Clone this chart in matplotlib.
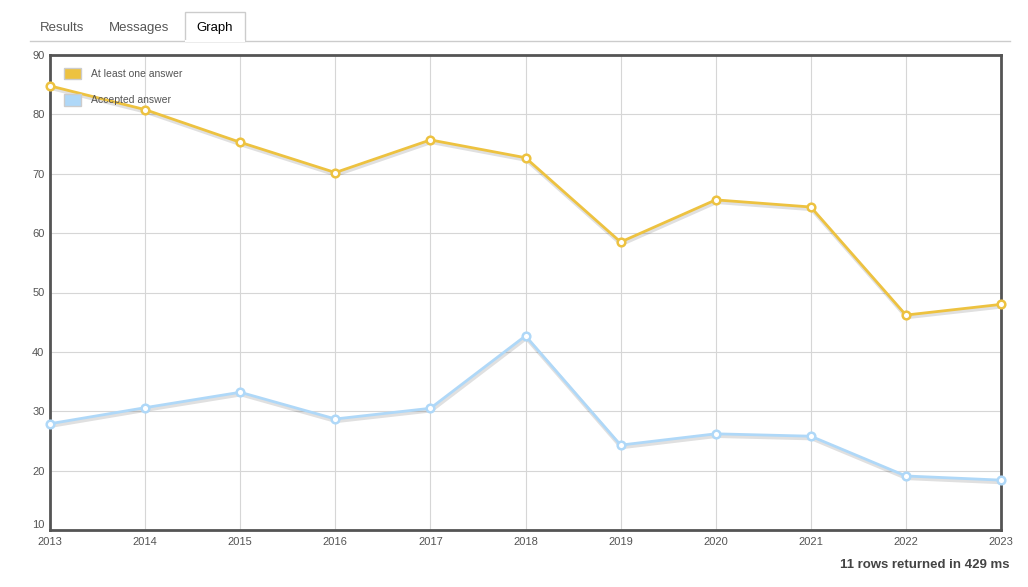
import matplotlib.pyplot as plt
import matplotlib.transforms as mtransforms
from matplotlib.patches import Patch, Rectangle
from matplotlib.lines import Line2D

years = [2013, 2014, 2015, 2016, 2017, 2018, 2019, 2020, 2021, 2022, 2023]
at_least_one = [84.8, 80.8, 75.3, 70.2, 75.7, 72.7, 58.5, 65.6, 64.4, 46.2, 48.0]
accepted = [27.9, 30.6, 33.2, 28.7, 30.5, 42.7, 24.3, 26.2, 25.8, 19.1, 18.4]
series_names = ["At least one answer", "Accepted answer"]
series_colors = ["#edc240", "#afd8f8"]
tabs = ["Results", "Messages", "Graph"]

plt.rcParams['font.family'] = ['Liberation Sans', 'DejaVu Sans']

W, H = 1028, 587
fig = plt.figure(figsize=(W / 100, H / 100), dpi=100)
ax = fig.add_axes([50 / W, (H - 530) / H, 951 / W, 475 / H])

for vals, color in zip([at_least_one, accepted], series_colors):
    shadow = mtransforms.offset_copy(ax.transData, fig=fig, x=0.6, y=-1.6, units="points")
    ax.plot(years, vals, color="#000000", alpha=0.12, lw=2.8, transform=shadow, zorder=2,
            solid_capstyle="round")
    ax.plot(years, vals, color=color, lw=2.0, marker="o", ms=5.5, mfc="white",
            mec=color, mew=1.8, zorder=3, clip_on=False)

ax.set_xlim(2013, 2023)
ax.set_ylim(10, 90)
ax.set_xticks(years)
ax.set_yticks(range(10, 91, 10))
ax.grid(True, color="#d6d6d6", lw=0.8)
ax.set_axisbelow(True)
for s in ax.spines.values():
    s.set_color("#545454")
    s.set_linewidth(2)
ax.tick_params(length=0, colors="#545454", labelsize=8, pad=4)
ax.tick_params(axis="x", pad=5)
ax.get_yticklabels()[0].set_va("bottom")

handles = [Patch(facecolor=c, edgecolor="#cccccc", lw=1) for c in series_colors]
leg = ax.legend(handles, series_names, loc="upper left", bbox_to_anchor=(0.005, 0.993),
                frameon=False, fontsize=7.5, handlelength=1.6, handleheight=1.3,
                labelspacing=1.45, handletextpad=1.0)
for t in leg.get_texts():
    t.set_color("#545454")

# tab strip
fig.add_artist(Line2D([30 / W, 1010 / W], [1 - 41 / H, 1 - 41 / H], color="#cccccc", lw=1))
fig.add_artist(Rectangle((185 / W, 1 - 41 / H), 60 / W, 29 / H, facecolor="white",
                         edgecolor="#cccccc", lw=1, transform=fig.transFigure))
fig.add_artist(Line2D([186 / W, 244 / W], [1 - 41 / H, 1 - 41 / H], color="white", lw=1.5))
for name, xc in zip(tabs, [62, 139, 215]):
    fig.text(xc / W, 1 - 31 / H, name, ha="center", va="baseline", fontsize=9.5,
             color="#000000" if name == "Graph" else "#555555")

fig.text(1010 / W, 1 - 565 / H, "11 rows returned in 429 ms", ha="right", va="center",
         fontsize=9.5, fontweight="bold", color="#444444")

fig.savefig("out.png", dpi=100)
